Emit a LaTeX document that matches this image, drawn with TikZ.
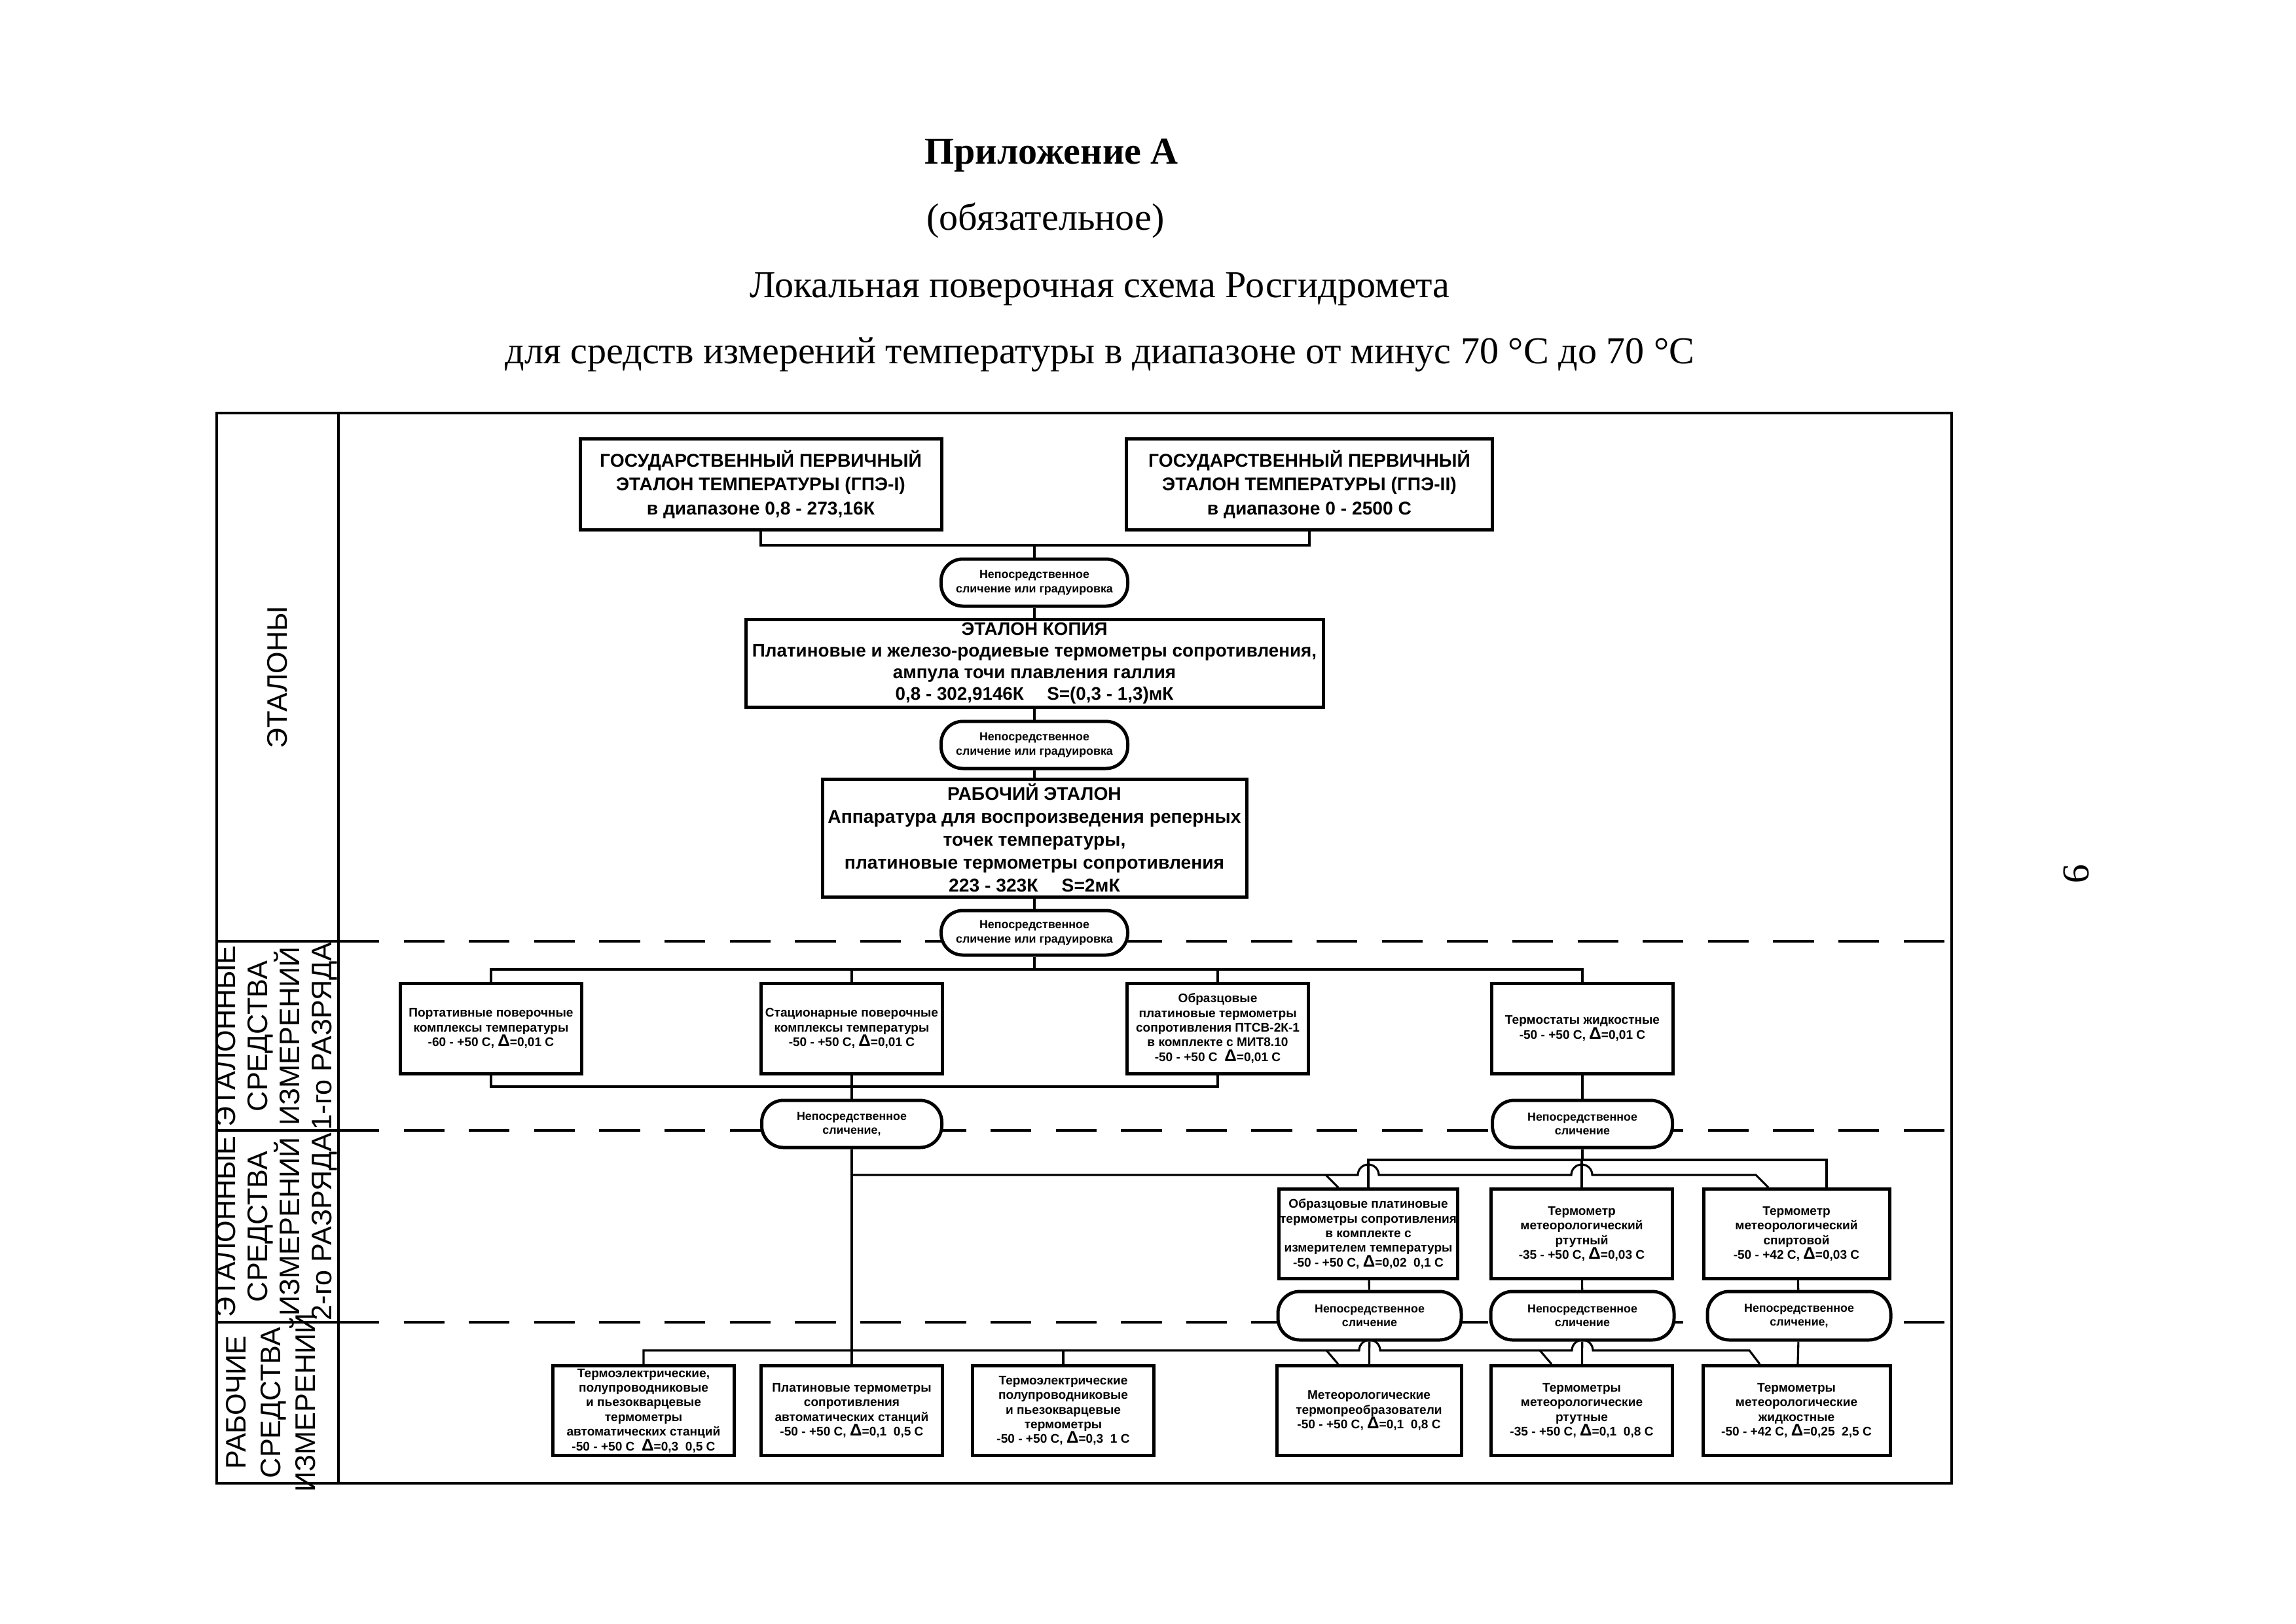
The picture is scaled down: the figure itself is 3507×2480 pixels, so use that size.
\documentclass[tikz,border=0pt]{standalone}
\usepackage{fontspec}
\setmainfont{Liberation Serif}
\newfontfamily\diagfont{Liberation Sans}
\usetikzlibrary{positioning}
\newcommand{\pxu}{0.0846857mm}
\newcommand{\bigfnt}{\diagfont\bfseries\fontsize{6.8}{8.7}\selectfont}
\newcommand{\smallfnt}{\diagfont\bfseries\fontsize{4.6}{5.4}\selectfont}
\newcommand{\ovalfnt}{\diagfont\bfseries\fontsize{4.3}{5.2}\selectfont}
\newcommand{\dlt}{{\fontsize{6.2}{5}\selectfont Δ}}
\tikzset{
  frameline/.style={line width=1.1pt},
  secline/.style={line width=1pt, dash pattern=on 15pt off 9pt},
  wire/.style={line width=0.75pt},
  bigbox/.style={draw, line width=1.2pt, align=center, font=\bigfnt, inner sep=0pt},
  unitbox/.style={draw, line width=1.2pt, align=center, font=\smallfnt, inner sep=0pt,
                  minimum width=277*\pxu, minimum height=137*\pxu},
  cmpoval/.style={draw, fill=white, line width=1.2pt, rounded corners=8pt, align=center,
                  font=\ovalfnt, inner sep=0pt, minimum width=280*\pxu, minimum height=72*\pxu},
  rowlabel/.style={rotate=90, align=center, font=\diagfont\fontsize{10.4}{11.8}\selectfont},
  ttl/.style={anchor=base, font=\fontsize{14}{16}\selectfont},
}

\begin{document}
\begin{tikzpicture}[x=0.0846857mm, y=-0.0846857mm]
\useasboundingbox (0,0) rectangle (3507,2480);

% heading
\node[ttl, font=\bfseries\fontsize{14}{16}\selectfont] (t1) at (1606,250) {Приложение А};
\node[ttl] (t2) at (1597,351) {(обязательное)};
\node[ttl] (t3) at (1680,454) {Локальная поверочная схема Росгидромета};
\node[ttl] (t4) at (1680,555) {для средств измерений температуры в диапазоне от минус 70 °C до 70 °C};
\node[rotate=-90, font=\fontsize{14}{16}\selectfont] (pnum) at (3171,1335) {9};

% table frame
\draw[frameline] (331,631) rectangle (2981,2266);
\draw[frameline] (517,631) -- (517,2266);
\foreach \yy in {1438,1727,2020} {
  \draw[frameline] (331,\yy) -- (517,\yy);
  \draw[secline] (517,\yy) -- (2981,\yy);
}
\node[rowlabel] (lbl0) at (424,1035) {ЭТАЛОНЫ};
\node[rowlabel] (lbl1) at (422,1583) {ЭТАЛОННЫЕ\\СРЕДСТВА\\ИЗМЕРЕНИЙ\\1-го РАЗРЯДА};
\node[rowlabel] (lbl2) at (422,1874) {ЭТАЛОННЫЕ\\СРЕДСТВА\\ИЗМЕРЕНИЙ\\2-го РАЗРЯДА};
\node[rowlabel, font=\diagfont\fontsize{10.4}{12.8}\selectfont] (lbl3) at (414,2143) {РАБОЧИЕ\\СРЕДСТВА\\ИЗМЕРЕНИЙ};

% bus levels
\coordinate (busT) at (0,833);
\coordinate (busB1) at (0,1481);
\coordinate (busB2) at (0,1660);
\coordinate (busC) at (0,1772);
\coordinate (brC) at (0,1795);
\coordinate (busD) at (0,2063);

% standards
\node[bigbox, minimum width=552*\pxu, minimum height=139*\pxu] (gpe1) at (1162,740)
  {ГОСУДАРСТВЕННЫЙ ПЕРВИЧНЫЙ\\ЭТАЛОН ТЕМПЕРАТУРЫ (ГПЭ-I)\\в диапазоне 0,8 - 273,16К};
\node[bigbox, minimum width=559*\pxu, minimum height=139*\pxu] (gpe2) at (2000,740)
  {ГОСУДАРСТВЕННЫЙ ПЕРВИЧНЫЙ\\ЭТАЛОН ТЕМПЕРАТУРЫ (ГПЭ-II)\\в диапазоне 0 - 2500 С};
\node[cmpoval, minimum width=285*\pxu] (ov1) at (1580,890) {Непосредственное\\сличение или градуировка};
\node[bigbox, minimum width=882*\pxu, minimum height=134*\pxu, font=\diagfont\bfseries\fontsize{6.7}{8}\selectfont] (kop) at (1580,1013)
  {ЭТАЛОН КОПИЯ\\Платиновые и железо-родиевые термометры сопротивления,\\ампула точи плавления галлия\\0,8 - 302,9146К \quad S=(0,3 - 1,3)мК};
\node[cmpoval, minimum width=285*\pxu] (ov2) at (1580,1138) {Непосредственное\\сличение или градуировка};
\node[bigbox, minimum width=648*\pxu, minimum height=180*\pxu, font=\diagfont\bfseries\fontsize{6.8}{8.4}\selectfont] (rab) at (1580,1280)
  {РАБОЧИЙ ЭТАЛОН\\Аппаратура для воспроизведения реперных\\точек температуры,\\платиновые термометры сопротивления\\223 - 323К \quad S=2мК};
\node[cmpoval, minimum width=285*\pxu, minimum height=68*\pxu] (ov3) at (1580,1425) {Непосредственное\\сличение или градуировка};

\draw[wire] (gpe1.south) -- (gpe1.south |- busT) -| (gpe2.south);
\draw[wire] (ov1.north) -- (ov1.north |- busT);
\draw[wire] (ov1) -- (kop);
\draw[wire] (kop) -- (ov2);
\draw[wire] (ov2) -- (rab);
\draw[wire] (rab) -- (ov3);

% 1st grade
\node[unitbox, minimum height=138*\pxu] (b1) at (750,1571)
  {Портативные поверочные\\комплексы температуры\\-60 - +50 С, \dlt=0,01 С};
\node[unitbox, minimum height=138*\pxu] (b2) at (1301,1571)
  {Стационарные поверочные\\комплексы температуры\\-50 - +50 С, \dlt=0,01 С};
\node[unitbox, minimum height=138*\pxu] (b3) at (1860,1571)
  {Образцовые\\платиновые термометры\\сопротивления ПТСВ-2К-1\\в комплекте с МИТ8.10\\-50 - +50 С \ \dlt=0,01 С};
\node[unitbox, minimum height=138*\pxu] (b4) at (2417,1571)
  {Термостаты жидкостные\\-50 - +50 С, \dlt=0,01 С};
\node[cmpoval, minimum width=275*\pxu] (ova) at (1301,1717) {Непосредственное\\сличение,};
\node[cmpoval, minimum width=275*\pxu] (ovb) at (2417,1717) {Непосредственное\\сличение};

\draw[wire] (ov3.south) -- (ov3.south |- busB1);
\draw[wire] (b1.north) -- (b1.north |- busB1) -| (b4.north);
\draw[wire] (b2.north) -- (b2.north |- busB1);
\draw[wire] (b3.north) -- (b3.north |- busB1);
\draw[wire] (b1.south) -- (b1.south |- busB2) -| (b3.south);
\draw[wire] (b2.south) -- (ova.north);
\draw[wire] (b4) -- (ovb);

% 2nd grade
\node[unitbox, minimum width=273*\pxu] (c1) at (2090,1885)
  {Образцовые платиновые\\термометры сопротивления\\в комплекте с\\измерителем температуры\\-50 - +50 С, \dlt=0,02 \ 0,1 С};
\node[unitbox] (c2) at (2416,1885)
  {Термометр\\метеорологический\\ртутный\\-35 - +50 С, \dlt=0,03 С};
\node[unitbox, minimum width=284*\pxu] (c3) at (2744,1885)
  {Термометр\\метеорологический\\спиртовой\\-50 - +42 С, \dlt=0,03 С};
\coordinate (c3in) at (2790,0 |- c3.north);
\node[cmpoval, minimum height=74*\pxu] (ovc1) at (2092,2010) {Непосредственное\\сличение};
\node[cmpoval, minimum height=74*\pxu] (ovc2) at (2417,2010) {Непосредственное\\сличение};
\node[cmpoval, minimum height=74*\pxu] (ovc3) at (2748,2010) {Непосредственное\\сличение,};

\draw[wire] (ovb.south) -- (ovb.south |- busC);
\draw[wire] (c1.north) -- (c1.north |- busC) -| (c3in);
\draw[wire] (c2.north) -- (c2.north |- busC);
\draw[wire] (ova.south |- brC) -- (2074,0 |- brC) arc[start angle=180, end angle=0, radius=16*\pxu]
  -- (2400,0 |- brC) arc[start angle=180, end angle=0, radius=16*\pxu]
  -- (2682,0 |- brC) -- (2701,0 |- c3.north);
\draw[wire] (2025,0 |- brC) -- (2044,0 |- c1.north);
\draw[wire] (c1) -- (ovc1);
\draw[wire] (c2) -- (ovc2);
\draw[wire] (c3) -- (ovc3);

% working instruments
\node[unitbox] (d1) at (983,2155)
  {Термоэлектрические,\\полупроводниковые\\и пьезокварцевые\\термометры\\автоматических станций\\-50 - +50 С \ \dlt=0,3 \ 0,5 С};
\node[unitbox] (d2) at (1301,2155)
  {Платиновые термометры\\сопротивления\\автоматических станций\\-50 - +50 С, \dlt=0,1 \ 0,5 С};
\node[unitbox] (d3) at (1624,2155)
  {Термоэлектрические\\полупроводниковые\\и пьезокварцевые\\термометры\\-50 - +50 С, \dlt=0,3 \ 1 С};
\node[unitbox, minimum width=282*\pxu] (d4) at (2091,2155)
  {Метеорологические\\термопреобразователи\\-50 - +50 С, \dlt=0,1 \ 0,8 С};
\node[unitbox] (d5) at (2416,2155)
  {Термометры\\метеорологические\\ртутные\\-35 - +50 С, \dlt=0,1 \ 0,8 С};
\node[unitbox, minimum width=286*\pxu] (d6) at (2744,2155)
  {Термометры\\метеорологические\\жидкостные\\-50 - +42 С, \dlt=0,25 \ 2,5 С};

\draw[wire] (ova.south) -- (d2.north);
\draw[wire] (d1.north) -- (d1.north |- busD) -- (2076,0 |- busD) arc[start angle=180, end angle=0, radius=16*\pxu]
  -- (2401,0 |- busD) arc[start angle=180, end angle=0, radius=16*\pxu]
  -- (2672,0 |- busD) -- (2688,0 |- d6.north);
\draw[wire] (d3.north) -- (d3.north |- busD);
\draw[wire] (2026,0 |- busD) -- (2044,0 |- d4.north);
\draw[wire] (2352,0 |- busD) -- (2370,0 |- d5.north);
\draw[wire] (ovc1) -- (d4);
\draw[wire] (ovc2) -- (d5);
\draw[wire] (ovc3) -- (d6);
\end{tikzpicture}
\end{document}
